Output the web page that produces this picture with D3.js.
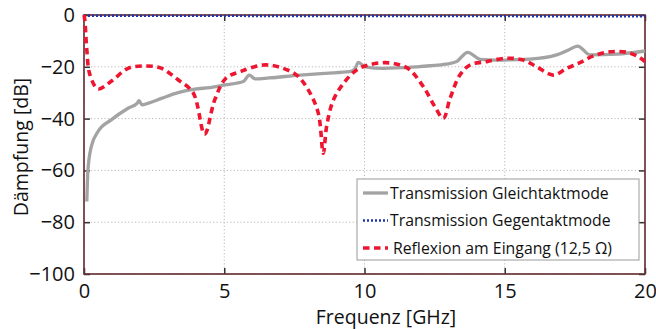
<!DOCTYPE html>
<html><head><meta charset="utf-8">
<script src="https://cdn.jsdelivr.net/npm/d3@7"></script>
<style>body{margin:0;background:#fff}svg{display:block}</style>
</head><body>
<svg id="c" width="656" height="329"></svg>
<script>
const xTicks = [0, 5, 10, 15, 20];
const yTicks = [0, -20, -40, -60, -80, -100];

const grayF  = [0.1, 0.14, 0.26, 0.5, 0.97, 1.57, 1.9, 1.96, 2.07, 2.3, 2.76, 3.35, 3.95, 4.5, 5.02, 5.68, 5.89, 6.1, 6.6, 7.7, 8.6, 9.48, 9.66, 9.78, 10.02, 10.67, 11.86, 12.34, 12.9, 13.28, 13.68, 14.12, 14.7, 15.9, 16.85, 17.27, 17.6, 18.04, 19.0, 20];
const grayDb = [-72, -60, -50.8, -45, -40.5, -36, -34, -33.1, -34.7, -34, -32.2, -30, -28.6, -28, -27, -25.7, -23.2, -24.7, -24.3, -23.2, -22.5, -21.9, -20.8, -18.3, -20, -20.6, -20, -19.6, -19, -18, -14.4, -17.1, -17.4, -17, -15.4, -13.5, -12, -15.4, -15.1, -13.9];

const blueF  = [0, 20];
const blueDb = [-0.3, -0.5];

const redF  = [0, 0.03, 0.1, 0.21, 0.5, 0.96, 1.57, 2.16, 2.75, 3.35, 3.89, 4.3, 4.66, 5.06, 5.56, 6.39, 6.99, 7.58, 8.0, 8.35, 8.53, 8.65, 8.89, 9.3, 9.72, 10.14, 10.73, 11.27, 11.62, 12.1, 12.51, 12.81, 13.05, 13.4, 13.76, 14.36, 15.07, 15.66, 16.14, 16.73, 17.21, 17.68, 18.16, 18.75, 19.35, 19.76, 20];
const redDb = [0, -2, -13.5, -23, -28.5, -25.7, -20.6, -19.7, -20.5, -25, -30, -46, -32.8, -24.4, -21.9, -19.3, -20.2, -23.2, -29, -37.8, -53.4, -43, -32.8, -25.7, -21.2, -19.3, -18.4, -19.3, -21.2, -27.7, -35.4, -39.9, -32.2, -23.2, -19.3, -18, -16.7, -17.4, -20, -23.2, -20.6, -18.4, -15.8, -14.2, -14.4, -16.1, -18];

const legendLabels = ["Transmission Gleichtaktmode", "Transmission Gegentaktmode", "Reflexion am Eingang (12,5 Ω)"];

const L = 84, R = 645, T = 15, B = 274;
const FONT = "'Open Sans', 'DejaVu Sans', sans-serif";
const svg = d3.select("#c");
const x = d3.scaleLinear().domain([0, 20]).range([L, R]);
const y = d3.scaleLinear().domain([-100, 0]).range([B, T]);

// grid
const grid = svg.append("g").attr("stroke", "#b8b8b8").attr("stroke-width", 1).attr("stroke-dasharray", "1.2,2.2");
xTicks.slice(1, -1).forEach(v => grid.append("line").attr("x1", x(v)).attr("x2", x(v)).attr("y1", T).attr("y2", B));
yTicks.slice(1, -1).forEach(v => grid.append("line").attr("x1", L).attr("x2", R).attr("y1", y(v)).attr("y2", y(v)));

// axes (inward ticks)
const tickLen = 6;
const axB = svg.append("g").attr("transform", `translate(0,${B})`).call(d3.axisBottom(x).tickValues(xTicks).tickSizeInner(-tickLen).tickSizeOuter(0).tickPadding(tickLen + 4));
const axT = svg.append("g").attr("transform", `translate(0,${T})`).call(d3.axisTop(x).tickValues(xTicks).tickSizeInner(-tickLen).tickSizeOuter(0).tickFormat(""));
const axL = svg.append("g").attr("transform", `translate(${L},0)`).call(d3.axisLeft(y).tickValues(yTicks).tickSizeInner(-tickLen).tickSizeOuter(0).tickPadding(tickLen + 3));
const axR = svg.append("g").attr("transform", `translate(${R},0)`).call(d3.axisRight(y).tickValues(yTicks).tickSizeInner(-tickLen).tickSizeOuter(0).tickFormat(""));
[axB, axT, axL, axR].forEach(a => {
  a.select(".domain").remove();
  a.selectAll(".tick line").attr("stroke", "#333").attr("stroke-width", 1.5);
  a.selectAll("text").attr("font-family", FONT).attr("font-size", 20).attr("fill", "#111");
});
axB.selectAll("text").attr("dy", "0.71em");

// frame
svg.append("rect").attr("x", L).attr("y", T).attr("width", R - L).attr("height", B - T)
  .attr("fill", "none").attr("stroke", "#4a3535").attr("stroke-width", 1.6);
svg.append("rect").attr("x", L).attr("y", T).attr("width", R - L).attr("height", B - T)
  .attr("fill", "none").attr("stroke", "#e8112d").attr("stroke-width", 0.8).attr("stroke-dasharray", "1.5,1.5").attr("opacity", 0.7);

// lines
const mk = (F, D) => F.map((f, i) => [f, D[i]]);
svg.append("clipPath").attr("id", "pc").append("rect").attr("x", L - 2).attr("y", T - 3).attr("width", R - L + 4).attr("height", B - T + 5);
const plot = svg.append("g").attr("clip-path", "url(#pc)");

const lineMono = d3.line().x(d => x(d[0])).y(d => y(d[1])).curve(d3.curveMonotoneX);
const lineCR = d3.line().x(d => x(d[0])).y(d => y(d[1])).curve(d3.curveCatmullRom.alpha(0.5));

plot.append("path").attr("d", lineMono(mk(grayF, grayDb))).attr("fill", "none")
  .attr("stroke", "#a3a3a3").attr("stroke-width", 3.3).attr("stroke-linejoin", "round");
plot.append("path").attr("d", lineMono(mk(blueF, blueDb))).attr("fill", "none")
  .attr("stroke", "#1f34b0").attr("stroke-width", 2.4).attr("stroke-dasharray", "2,2");
plot.append("path").attr("d", lineCR(mk(redF, redDb))).attr("fill", "none")
  .attr("stroke", "#ee1530").attr("stroke-width", 3.6).attr("stroke-dasharray", "6.5,4.5");

// axis labels
svg.append("text").attr("x", 386).attr("y", 324).attr("text-anchor", "middle")
  .attr("font-family", FONT).attr("font-size", 19.5).attr("fill", "#111").text("Frequenz [GHz]");
svg.append("text").attr("transform", "translate(28,147) rotate(-90)").attr("text-anchor", "middle")
  .attr("font-family", FONT).attr("font-size", 19.5).attr("fill", "#111").text("Dämpfung [dB]");

// legend
const lg = svg.append("g");
lg.append("rect").attr("x", 357).attr("y", 179).attr("width", 282).attr("height", 81)
  .attr("fill", "#fff").attr("stroke", "#9a9a9a").attr("stroke-width", 1);
const styles = [
  {stroke: "#a3a3a3", w: 3.3, dash: null, tx: 390},
  {stroke: "#1f34b0", w: 2.4, dash: "2,2", tx: 390},
  {stroke: "#ee1530", w: 3.6, dash: "6.5,4.5", tx: 393}
];
legendLabels.forEach((t, i) => {
  const yy = 193 + i * 27.5;
  const s = styles[i];
  const ln = lg.append("line").attr("x1", 363).attr("x2", 388).attr("y1", yy).attr("y2", yy)
    .attr("stroke", s.stroke).attr("stroke-width", s.w);
  if (s.dash) ln.attr("stroke-dasharray", s.dash);
  lg.append("text").attr("x", s.tx).attr("y", yy).attr("dy", "0.35em")
    .attr("font-family", FONT).attr("font-size", 15.8).attr("fill", "#111").text(t);
});
</script>
</body></html>
